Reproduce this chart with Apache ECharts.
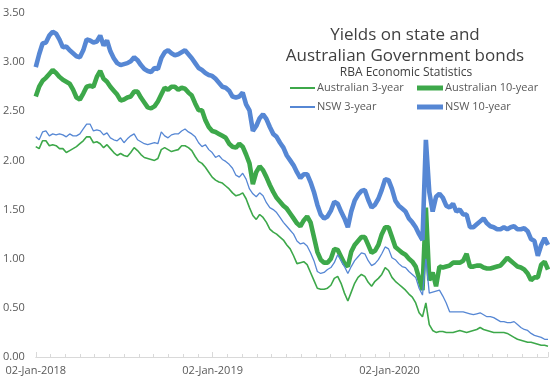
<!DOCTYPE html>
<html>
<head>
<meta charset="utf-8">
<script src="https://cdn.jsdelivr.net/npm/echarts@6/dist/echarts.min.js"></script>
<style>
html,body{margin:0;padding:0;background:#fff;}
#chart{width:550px;height:386px;}
</style>
</head>
<body>
<div id="chart"></div>
<script>
// Weekly observations starting 02-Jan-2018 (x = days since start, step 7 days)
var startLabel = '02-Jan-2018';
var stepDays = 7;
var xTickLabels = ['02-Jan-2018', '02-Jan-2019', '02-Jan-2020'];
var xTickDays = [0, 365, 730];
var yTickLabels = ['0.00','0.50','1.00','1.50','2.00','2.50','3.00','3.50'];

var aus3 = [2.14,2.12,2.20,2.20,2.15,2.16,2.15,2.12,2.12,2.08,2.10,2.12,2.14,2.17,2.20,2.24,2.24,2.18,2.19,2.17,
2.13,2.16,2.12,2.08,2.05,2.07,2.05,2.04,2.08,2.13,2.10,2.06,2.03,2.02,2.01,2.00,2.02,2.11,2.13,2.11,
2.09,2.10,2.11,2.15,2.15,2.13,2.10,2.04,1.99,1.97,1.93,1.88,1.83,1.80,1.78,1.77,1.74,1.71,1.67,1.64,
1.65,1.67,1.61,1.52,1.44,1.40,1.45,1.42,1.37,1.30,1.27,1.25,1.22,1.19,1.14,1.10,1.03,0.95,0.96,0.97,
0.94,0.86,0.78,0.70,0.69,0.69,0.70,0.73,0.80,0.82,0.75,0.65,0.57,0.66,0.75,0.81,0.84,0.82,0.76,0.72,
0.77,0.80,0.84,0.91,0.88,0.81,0.77,0.74,0.71,0.68,0.64,0.61,0.55,0.45,0.41,0.55,0.33,0.27,0.25,0.26,
0.26,0.25,0.25,0.25,0.26,0.27,0.26,0.25,0.26,0.27,0.28,0.30,0.28,0.27,0.26,0.25,0.25,0.25,0.25,0.24,
0.22,0.20,0.18,0.17,0.16,0.15,0.15,0.14,0.13,0.12,0.12,0.11];

var aus10 = [2.65,2.75,2.81,2.84,2.88,2.92,2.89,2.85,2.82,2.80,2.78,2.72,2.64,2.62,2.68,2.75,2.76,2.75,2.85,2.91,
2.83,2.80,2.75,2.71,2.67,2.61,2.62,2.64,2.65,2.70,2.70,2.64,2.59,2.54,2.53,2.55,2.60,2.67,2.74,2.72,
2.75,2.75,2.72,2.74,2.73,2.69,2.66,2.58,2.51,2.51,2.41,2.34,2.30,2.29,2.27,2.25,2.23,2.17,2.14,2.13,
2.17,2.14,2.06,1.97,1.76,1.88,1.94,1.90,1.83,1.75,1.68,1.62,1.58,1.54,1.51,1.46,1.41,1.36,1.33,1.39,
1.43,1.37,1.22,1.07,0.99,0.96,0.96,1.00,1.10,1.09,1.02,0.95,0.92,1.07,1.14,1.18,1.22,1.22,1.14,1.06,
1.08,1.14,1.25,1.32,1.32,1.22,1.12,1.09,1.06,1.04,1.00,0.97,0.92,0.80,0.68,1.52,0.78,0.86,0.72,0.92,
0.91,0.92,0.93,0.96,0.96,0.96,0.98,1.05,0.92,0.92,0.93,0.93,0.91,0.90,0.90,0.91,0.92,0.93,0.97,1.01,
0.98,0.95,0.92,0.91,0.89,0.85,0.78,0.81,0.81,0.94,0.97,0.89];

var nsw3 = [2.24,2.21,2.29,2.30,2.25,2.27,2.26,2.27,2.26,2.24,2.27,2.25,2.25,2.27,2.32,2.37,2.37,2.30,2.31,2.30,
2.26,2.28,2.23,2.21,2.20,2.23,2.18,2.22,2.25,2.27,2.21,2.19,2.17,2.16,2.17,2.18,2.17,2.29,2.25,2.23,
2.26,2.27,2.27,2.30,2.32,2.29,2.27,2.24,2.18,2.14,2.16,2.11,2.08,2.03,2.05,2.01,1.99,1.96,1.92,1.85,
1.83,1.87,1.81,1.71,1.66,1.63,1.67,1.64,1.57,1.52,1.50,1.47,1.42,1.37,1.33,1.29,1.25,1.18,1.15,1.16,
1.13,1.06,0.98,0.87,0.85,0.86,0.89,0.91,0.96,1.04,0.98,0.92,0.85,0.92,0.98,1.02,1.06,1.05,0.98,0.93,
0.95,0.99,1.05,1.12,1.10,1.01,0.99,0.95,0.92,0.91,0.87,0.84,0.81,0.70,0.63,1.00,0.65,0.66,0.67,0.68,
0.62,0.55,0.46,0.46,0.46,0.46,0.46,0.45,0.44,0.43,0.44,0.45,0.43,0.41,0.41,0.40,0.38,0.36,0.36,0.35,
0.35,0.36,0.33,0.30,0.28,0.27,0.24,0.22,0.21,0.20,0.18,0.18];

var nsw10 = [2.95,3.08,3.19,3.20,3.27,3.31,3.29,3.23,3.15,3.16,3.12,3.09,3.06,3.05,3.12,3.23,3.22,3.20,3.21,3.27,
3.17,3.22,3.11,3.04,2.99,2.97,2.98,2.99,3.01,3.05,3.02,2.97,2.93,2.91,2.90,2.94,2.93,3.04,3.10,3.12,
3.09,3.07,3.08,3.10,3.12,3.08,3.04,2.99,2.94,2.92,2.89,2.87,2.86,2.83,2.79,2.75,2.74,2.71,2.65,2.64,
2.65,2.69,2.57,2.51,2.30,2.35,2.43,2.47,2.42,2.34,2.27,2.24,2.18,2.13,2.05,2.00,1.95,1.88,1.82,1.86,
1.86,1.78,1.68,1.55,1.45,1.41,1.43,1.49,1.58,1.56,1.48,1.41,1.32,1.48,1.59,1.65,1.69,1.70,1.60,1.52,
1.55,1.61,1.70,1.81,1.80,1.71,1.59,1.54,1.51,1.48,1.41,1.37,1.32,1.25,1.19,2.21,1.68,1.48,1.63,1.66,
1.62,1.54,1.52,1.56,1.48,1.50,1.45,1.45,1.32,1.32,1.35,1.38,1.41,1.36,1.33,1.32,1.30,1.30,1.32,1.30,
1.32,1.33,1.30,1.30,1.31,1.28,1.20,1.18,1.03,1.14,1.21,1.14];

var seriesNames = ['Australian 3-year', 'Australian 10-year', 'NSW 3-year', 'NSW 10-year'];

function toPairs(vals) {
  return vals.map(function (v, i) { return [i * stepDays, v]; });
}

var GREEN = '#3DA84A';
var BLUE = '#5687D4';
var FONT = 'Open Sans';
var TXT = '#595959';

var chart = echarts.init(document.getElementById('chart'), null, {renderer: 'canvas'});
var option = {
  backgroundColor: '#ffffff',
  animation: false,
  textStyle: {fontFamily: FONT},
  title: [
    {
      text: 'Yields on state and\nAustralian Government bonds',
      left: 400, top: 20, textAlign: 'center',
      textStyle: {fontFamily: FONT, fontSize: 17, fontWeight: 'normal', color: '#404040', lineHeight: 21}
    },
    {
      text: 'RBA Economic Statistics',
      left: 401, top: 62, textAlign: 'center',
      textStyle: {fontFamily: FONT, fontSize: 12, fontWeight: 'normal', color: '#404040'}
    }
  ],
  legend: [
    {
      data: [seriesNames[0], seriesNames[2]],
      icon: 'rect',
      orient: 'vertical', left: 290, top: 81,
      itemWidth: 25, itemHeight: 2, itemGap: 5, symbolKeepAspect: false,
      textStyle: {fontFamily: FONT, fontSize: 11, color: TXT, padding: [0,0,0,-3], height: 14, lineHeight: 14},
      padding: 0
    },
    {
      data: [seriesNames[1], seriesNames[3]],
      icon: 'rect',
      orient: 'vertical', left: 417, top: 81,
      itemWidth: 26, itemHeight: 5, itemGap: 5, symbolKeepAspect: false,
      textStyle: {fontFamily: FONT, fontSize: 11, color: TXT, padding: [0,0,0,-3], height: 14, lineHeight: 14},
      padding: 0
    }
  ],
  grid: {left: 35, right: 2, top: 13, bottom: 29, containLabel: false},
  xAxis: {
    type: 'value', min: 0, max: 1057, interval: 365,
    splitLine: {show: false},
    axisLine: {show: true, lineStyle: {color: '#d9d9d9', width: 1}},
    axisTick: {show: true, inside: true, length: 5, lineStyle: {color: '#d9d9d9'}},
    minorTick: {show: true, splitNumber: 12, length: 3, lineStyle: {color: '#d9d9d9'}},
    axisLabel: {
      fontFamily: FONT, fontSize: 11, color: TXT, margin: 8,
      showMaxLabel: false,
      formatter: function (v) {
        var i = xTickDays.indexOf(Math.round(v));
        return i >= 0 ? xTickLabels[i] : '';
      }
    }
  },
  yAxis: {
    type: 'value', min: 0, max: 3.5, interval: 0.5,
    splitLine: {show: false},
    axisLine: {show: false},
    axisTick: {show: false},
    axisLabel: {
      fontFamily: FONT, fontSize: 11, color: TXT, margin: 11,
      formatter: function (v) { return yTickLabels[Math.round(v * 2)]; }
    }
  },
  series: [
    {name: seriesNames[0], type: 'line', symbol: 'none', data: toPairs(aus3),
     lineStyle: {color: GREEN, width: 1.6}, itemStyle: {color: GREEN}},
    {name: seriesNames[1], type: 'line', symbol: 'none', data: toPairs(aus10),
     lineStyle: {color: GREEN, width: 4.6}, itemStyle: {color: GREEN}},
    {name: seriesNames[2], type: 'line', symbol: 'none', data: toPairs(nsw3),
     lineStyle: {color: BLUE, width: 1.3}, itemStyle: {color: BLUE}},
    {name: seriesNames[3], type: 'line', symbol: 'none', data: toPairs(nsw10),
     lineStyle: {color: BLUE, width: 4.6}, itemStyle: {color: BLUE}}
  ]
};
chart.setOption(option);
</script>
</body>
</html>
